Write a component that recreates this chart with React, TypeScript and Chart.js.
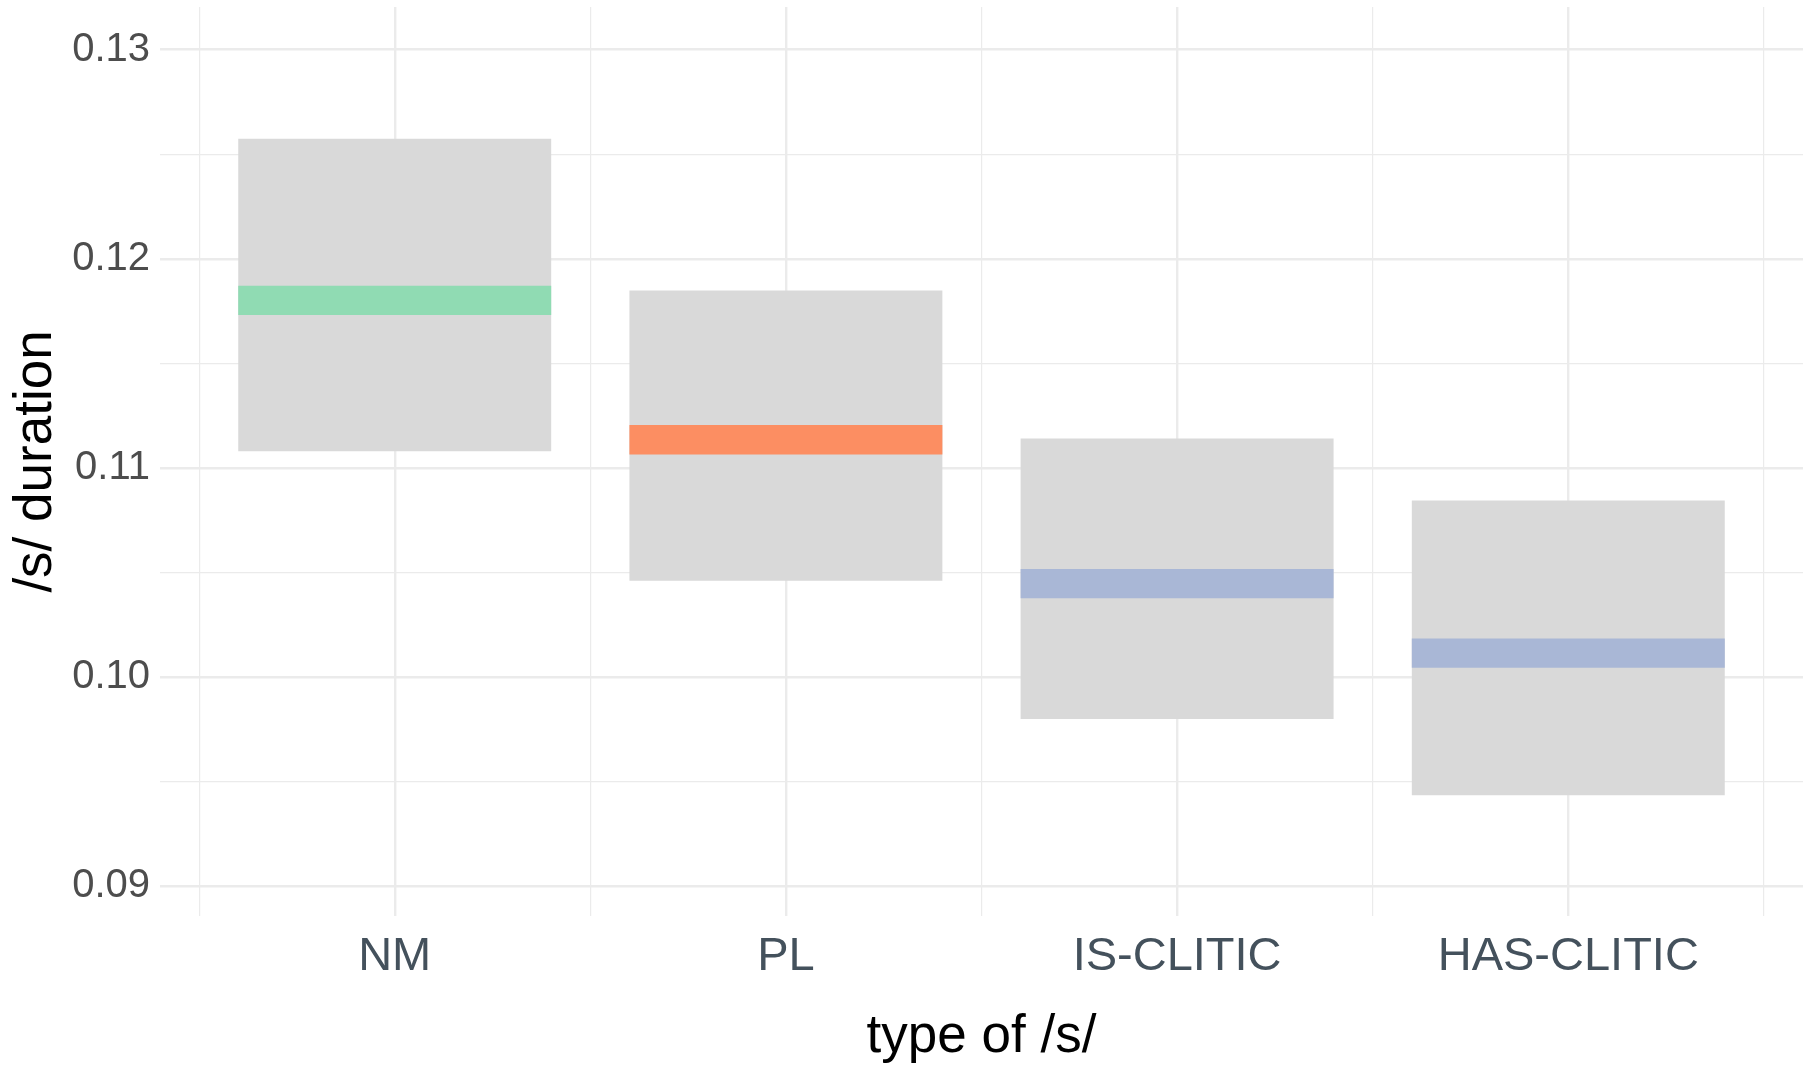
import React, { useEffect, useRef } from "react";
import { Chart, registerables } from "chart.js";

Chart.register(...registerables);

// ---- data ----
const categories = ["NM", "PL", "IS-CLITIC", "HAS-CLITIC"];
const boxLower = [0.11079, 0.1046, 0.09798, 0.09434];
const boxUpper = [0.12574, 0.11848, 0.1114, 0.10844];
const medians = [0.11801, 0.11134, 0.10446, 0.10113];
const medianColors = ["#90DBB3", "#FC8E62", "#A9B7D6", "#A9B7D6"];
const yMajorTicks = [0.09, 0.1, 0.11, 0.12, 0.13];
const yMinorTicks = [0.095, 0.105, 0.115, 0.125];
const yTickLabels = ["0.09", "0.10", "0.11", "0.12", "0.13"];
const xTitle = "type of /s/";
const yTitle = "/s/ duration";

const Y_MIN = 0.08856;
const Y_MAX = 0.13204;
const BAND_HALF = 0.0007;
const GRID = "#EBEBEB";
const FONT = "'Liberation Sans', Arial, sans-serif";
// ticks sit every half category, so a box 0.8 category wide is 1.6 tick steps
const BAR_PCT = 1.6;

const isNear = (a: number, b: number) => Math.abs(a - b) < 1e-7;

export default function App() {
  const ref = useRef<HTMLCanvasElement | null>(null);

  useEffect(() => {
    if (!ref.current) return;
    const xs = categories.map((_, i) => i + 1);
    const xMinor = [0.5, ...xs.map((x) => x + 0.5)];

    const chart = new Chart(ref.current, {
      type: "bar",
      data: {
        datasets: [
          {
            label: "median",
            data: xs.map((x, i) => ({ x, y: [medians[i] - BAND_HALF, medians[i] + BAND_HALF] })) as any,
            backgroundColor: medianColors,
            borderWidth: 0,
            barPercentage: BAR_PCT,
            categoryPercentage: 1,
            grouped: false,
            order: 0,
          },
          {
            label: "range",
            data: xs.map((x, i) => ({ x, y: [boxLower[i], boxUpper[i]] })) as any,
            backgroundColor: "#D9D9D9",
            borderWidth: 0,
            barPercentage: BAR_PCT,
            categoryPercentage: 1,
            grouped: false,
            order: 1,
          },
        ],
      },
      options: {
        responsive: false,
        animation: false,
        layout: { padding: { top: 7, right: 5, left: 0, bottom: 0 } },
        plugins: { legend: { display: false }, tooltip: { enabled: false } },
        scales: {
          x: {
            type: "linear",
            min: 0.4,
            max: 4.6,
            offset: false,
            afterFit: (s: any) => {
              s.height = 150;
              s.paddingLeft = 0;
              s.paddingRight = 0;
            },
            afterBuildTicks: (axis: any) => {
              const all = [...xs, ...xMinor].sort((a, b) => a - b);
              axis.ticks = all.map((v) => ({ value: v }));
            },
            border: { display: false },
            grid: {
              offset: false,
              drawTicks: false,
              color: GRID,
              lineWidth: (ctx: any) => (Number.isInteger(ctx.tick?.value) ? 2.4 : 1.2),
            },
            ticks: {
              padding: 13,
              color: "#44515C",
              font: { family: FONT, size: 47 },
              autoSkip: false,
              maxRotation: 0,
              callback: (v: any) => {
                const n = Number(v);
                return Number.isInteger(n) ? categories[n - 1] : "";
              },
            },
            title: {
              display: true,
              text: xTitle,
              color: "#000000",
              font: { family: FONT, size: 53 },
              padding: { top: 0, bottom: -3 },
            },
          },
          y: {
            type: "linear",
            min: Y_MIN,
            max: Y_MAX,
            afterFit: (s: any) => {
              s.width = 160;
              s.paddingTop = 0;
              s.paddingBottom = 0;
            },
            afterBuildTicks: (axis: any) => {
              const all = [...yMajorTicks, ...yMinorTicks].sort((a, b) => a - b);
              axis.ticks = all.map((v) => ({ value: v }));
            },
            border: { display: false },
            grid: {
              drawTicks: false,
              color: GRID,
              lineWidth: (ctx: any) =>
                yMajorTicks.some((m) => isNear(m, ctx.tick?.value)) ? 2.4 : 1.2,
            },
            ticks: {
              padding: 10,
              color: "#4D4D4D",
              font: { family: FONT, size: 40 },
              autoSkip: false,
              callback: (v: any) => {
                const idx = yMajorTicks.findIndex((m) => isNear(m, Number(v)));
                return idx >= 0 ? yTickLabels[idx] : "";
              },
            },
            title: {
              display: true,
              text: yTitle,
              color: "#000000",
              font: { family: FONT, size: 53 },
              padding: { top: 5, bottom: 0 },
            },
          },
        },
      },
    });
    return () => chart.destroy();
  }, []);

  return (
    <div style={{ position: "fixed", left: 0, top: 0, width: 1808, height: 1066, background: "#fff" }}>
      <canvas ref={ref} width={1808} height={1066} style={{ display: "block" }} />
    </div>
  );
}
